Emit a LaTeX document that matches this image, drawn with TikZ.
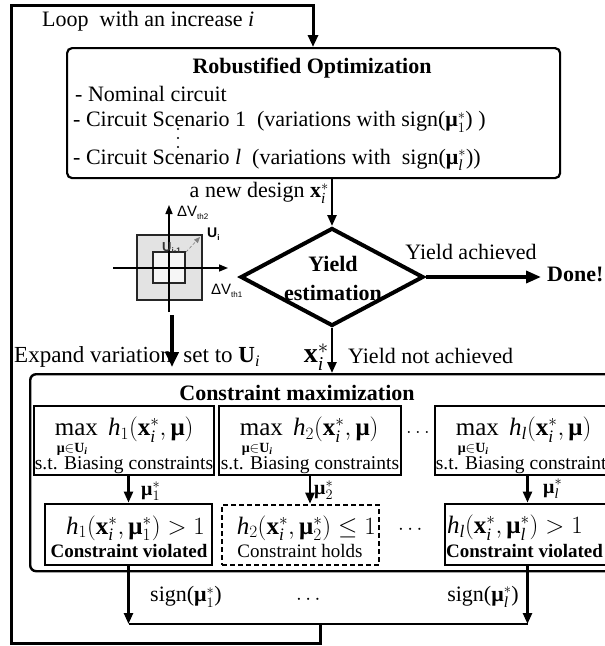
\documentclass[tikz,border=0pt]{standalone}
\usepackage{amsmath}
\usepackage{fontspec}
\setmainfont{Liberation Serif}
\newfontfamily\sansf{Liberation Sans}
\usetikzlibrary{arrows.meta,shapes.geometric,calc}
\newcommand{\fsz}[1]{\fontsize{#1}{#1}\selectfont}
\newcommand{\bmu}{\text{\bfseries μ}}
\newcommand{\bxx}{\text{\bfseries x}}
\newcommand{\bUU}{\text{\bfseries U}}
\newcommand{\itx}[1]{\text{\itshape #1}}
\tikzset{
  txt/.style={inner sep=0pt, font=\fsz{22}},
  boxline/.style={draw, line width=2.8pt, inner sep=0pt},
  arr/.style={-{Triangle[length=11pt,width=9pt]}},
  conn/.style={line width=2.4pt, arr},
}
\begin{document}
\begin{tikzpicture}[x=1pt,y=-1pt]
\useasboundingbox (0,0) rectangle (605,646);
\fill[white] (0,0) rectangle (605,646);
\clip (0,0) rectangle (605,646);

% ---------- top: robustified optimization ----------
\node[txt, anchor=west] (looptxt) at (42,21) {Loop\ \ with an increase \textit{i}};
\node[draw, rounded corners=5pt, line width=2.2pt, minimum width=493pt, minimum height=130pt, inner sep=0pt, anchor=north west] (robust) at (66,47) {};
\node[txt, font=\fsz{22}\bfseries] (robtitle) at (312,68) {Robustified Optimization};
\node[txt, anchor=west] (rl1) at (75,94) {- Nominal circuit};
\node[txt, anchor=west] (rl2) at (73,122) {- Circuit Scenario 1\ \ (variations with sign($\bmu_1^{*}$)\ )};
\node[txt, anchor=west] (rl3) at (73,160) {- Circuit Scenario \textit{l}\ \ (variations with\ \ sign($\bmu_{\itx{l}}^{*}$))};
\foreach \yy in {129,138,147} \fill (178,\yy) circle (1.2pt);

% ---------- yield estimation ----------
\node[diamond, draw, line width=4pt, minimum width=183pt, minimum height=98pt, inner sep=0pt] (yield) at (332,277) {};
\node[txt, font=\fontsize{22}{29}\selectfont\bfseries, align=center] (yieldtxt) at (333,278) {Yield\\estimation};
\draw[conn] (yield.north |- robust.south) -- (yield.north);
\node[txt, anchor=east] (newdesign) at (329,193) {a new design $\bxx_{\itx{i}}^{*}$};

\node[txt, anchor=west, font=\fsz{22}\bfseries] (done) at (547,274) {Done!};
\draw[line width=3.5pt, -{Triangle[length=15pt,width=12pt]}, shorten >=6pt] (yield.east) -- (yield.east -| done.west);
\node[txt] (achieved) at (471,252) {Yield achieved};

% ---------- inset ----------
\fill[gray!22] (137,235) rectangle (202,300);
\draw[line width=1.3pt, black!85] (137,235) rectangle (202,300);
\filldraw[fill=gray!7, draw=black!85, line width=1.3pt] (153,252) rectangle (185,283);
\draw[line width=1.5pt, -{Triangle[length=9pt,width=7pt]}] (113,268) -- (228,268);
\draw[line width=1.5pt, -{Triangle[length=9pt,width=7pt]}] (169,312) -- (169,205);
\node[inner sep=0pt, anchor=west, font=\sansf\fsz{15}] (dv2) at (177,213) {ΔV\raisebox{-0.4ex}{\fsz{8}th2}};
\node[inner sep=0pt, anchor=west, font=\sansf\fsz{15}] (dv1) at (211,291) {ΔV\raisebox{-0.4ex}{\fsz{8}th1}};
\node[inner sep=0pt, anchor=west, font=\sansf\bfseries\fsz{14}] (ui) at (207,234) {U\raisebox{-0.4ex}{\fsz{8}i}};
\node[inner sep=0pt, anchor=west, font=\sansf\bfseries\fsz{13}, text=black!80] (uim) at (162,248) {U\raisebox{-0.4ex}{\fsz{8}i-1}};
\draw[gray, densely dashed, line width=0.6pt, -{Triangle[length=6pt,width=5pt]}] (186,252) -- (200,237);

\coordinate (ex1) at (172,315);
\coordinate (ex2) at (172,367);
\node[txt, anchor=west, font=\fsz{23}] (expand) at (14,357) {Expand variation\ \ set to $\bUU_{\itx{i}}$};
\draw[line width=4.5pt, -{Triangle[length=15pt,width=13pt]}] (ex1) -- (ex2);

% ---------- constraint maximization ----------
\node[draw, rounded corners=6pt, line width=2.4pt, minimum width=600pt, minimum height=197pt, inner sep=0pt, anchor=north west] (cmax) at (29,373) {};
\draw[conn] (yield.south) -- (yield.south |- cmax.north);
\node[txt, anchor=east, font=\fsz{28}] (xstar) at (329,357) {$\bxx_{\itx{i}}^{*}$};
\node[txt, anchor=west] (notach) at (348,356) {Yield not achieved};
\node[txt, font=\fsz{22}\bfseries] (cmtitle) at (297,393) {Constraint maximization};

\node[boxline, minimum width=180pt, minimum height=69pt] (mb1) at (124,440.5) {};
\node[boxline, minimum width=182pt, minimum height=69pt] (mb2) at (310,440.5) {};
\node[boxline, minimum width=180pt, minimum height=69pt] (mb3) at (525,440.5) {};

\node[txt, anchor=west, font=\fsz{25}] (mx1) at ($(mb1.north west)+(22,25)$) {$\max\ \itx{h}_1(\bxx_{\itx{i}}^{*},\bmu)$};
\node[txt, anchor=west, font=\fsz{14}\bfseries] (sb1) at ($(mb1.north west)+(24,45)$) {μ$\in$U$_{\itx{i}}$};
\node[txt, font=\fsz{19.5}] (st1) at ($(mb1.north)+(0,61)$) {s.t. Biasing constraints};

\node[txt, anchor=west, font=\fsz{25}] (mx2) at ($(mb2.north west)+(22,25)$) {$\max\ \itx{h}_2(\bxx_{\itx{i}}^{*},\bmu)$};
\node[txt, anchor=west, font=\fsz{14}\bfseries] (sb2) at ($(mb2.north west)+(24,45)$) {μ$\in$U$_{\itx{i}}$};
\node[txt, font=\fsz{19.5}] (st2) at ($(mb2.north)+(0,61)$) {s.t. Biasing constraints};

\node[txt, anchor=west, font=\fsz{25}] (mx3) at ($(mb3.north west)+(22,25)$) {$\max\ \itx{h}_{\itx{l}}(\bxx_{\itx{i}}^{*},\bmu)$};
\node[txt, anchor=west, font=\fsz{14}\bfseries] (sb3) at ($(mb3.north west)+(24,45)$) {μ$\in$U$_{\itx{i}}$};
\node[txt, font=\fsz{19.5}] (st3) at ($(mb3.north)+(0,61)$) {s.t. Biasing constraints};

\node[txt] (dots1) at (418,432) {$\ldots$};

\node[boxline, minimum width=167pt, minimum height=61pt] (lb1) at (128.5,534.5) {};
\node[draw, line width=2.6pt, dash pattern=on 5pt off 3pt, inner sep=0pt, minimum width=157pt, minimum height=60pt] (lb2) at (300.5,535) {};
\node[boxline, minimum width=165pt, minimum height=61pt] (lb3) at (527.5,534.5) {};

\draw[conn] (mb1.south -| lb1.north) -- (lb1.north);
\draw[conn] (mb2.south) -- (mb2.south |- lb2.north);
\draw[conn] (mb3.south -| lb3.north) -- (lb3.north);
\node[txt, anchor=west, font=\fsz{20}] (mu1) at (141,491) {$\bmu_1^{*}$};
\node[txt, anchor=west, font=\fsz{20}] (mu2) at (314,490) {$\bmu_2^{*}$};
\node[txt, anchor=west, font=\fsz{20}] (mul) at (543,489) {$\bmu_{\itx{l}}^{*}$};

\node[txt, anchor=east, font=\fsz{25}] (h1) at (205,528) {$\itx{h}_1(\bxx_{\itx{i}}^{*},\bmu_1^{*})>1$};
\node[txt, font=\fsz{19}\bfseries] (cv1) at (129,551) {Constraint violated};
\node[txt, anchor=east, font=\fsz{25}] (h2) at (376,528) {$\itx{h}_2(\bxx_{\itx{i}}^{*},\bmu_2^{*})\le 1$};
\node[txt, font=\fsz{19}] (ch2) at (300,551) {Constraint holds};
\node[txt, anchor=west, font=\fsz{25}] (hl) at (447,528) {$\itx{h}_{\itx{l}}(\bxx_{\itx{i}}^{*},\bmu_{\itx{l}}^{*})>1$};
\node[txt, anchor=west, font=\fsz{19}\bfseries] (cv3) at (446,551) {Constraint violated};
\node[txt] (dots2) at (412,530) {$\cdots$};

% ---------- feedback ----------
\coordinate (busy) at (0,624);
\coordinate (busmid) at (320,624);
\coordinate (lbot) at (11,643);
\coordinate (ltop) at (11,5);
\coordinate (rtop) at (313,5);
\draw[conn] (lb1.south) -- (lb1.south |- busy);
\draw[conn] (lb3.south) -- (lb3.south |- busy);
\draw[line width=2.4pt] (lb1.south |- busy) -- (lb3.south |- busy);
\node[txt, anchor=west] (sign1) at (150,597) {sign($\bmu_1^{*}$)};
\node[txt, anchor=east] (signl) at (519,597) {sign($\bmu_{\itx{l}}^{*}$)};
\node[txt] (dots3) at (310,600) {$\cdots$};
\draw[line width=3pt, line join=miter, -{Triangle[length=12pt,width=10pt]}] (busmid) -- (busmid |- lbot) -- (lbot) -- (ltop) -- (rtop) -- (rtop |- robust.north);
\end{tikzpicture}
\end{document}
